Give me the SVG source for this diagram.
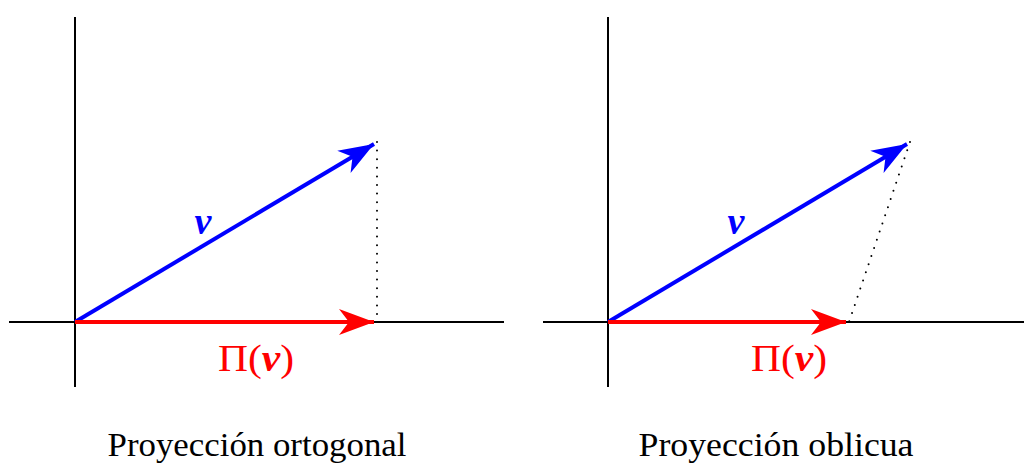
<svg xmlns="http://www.w3.org/2000/svg" width="1024" height="463" viewBox="0 0 1024 463">
<style>
.axis{stroke:#000;stroke-width:2;fill:none}
.vb{stroke:#0000ff;stroke-width:4;fill:none}
.vr{stroke:#ff0000;stroke-width:4;fill:none}
.dot{stroke:#000;stroke-width:2;stroke-dasharray:0,8.6;stroke-linecap:round;fill:none}
.cap{font-family:"Liberation Serif",serif;font-size:34px;fill:#000;text-anchor:middle}
.lb{font-family:"Liberation Serif",serif;font-size:38px;fill:#0000ff;font-style:italic;font-weight:bold;text-anchor:middle}
.lr{font-family:"Liberation Serif",serif;font-size:38px;fill:#ff0000;text-anchor:middle}
</style>
<defs>
<marker id="ab" markerUnits="userSpaceOnUse" markerWidth="40" markerHeight="30" viewBox="-36 -15 40 30" refX="0" refY="0" orient="auto" overflow="visible">
<path d="M0,0 L-35,-13 L-25,0 L-35,13 Z" fill="#0000ff"/>
</marker>
<marker id="ar" markerUnits="userSpaceOnUse" markerWidth="40" markerHeight="30" viewBox="-36 -15 40 30" refX="0" refY="0" orient="auto" overflow="visible">
<path d="M0,0 L-35,-13 L-25,0 L-35,13 Z" fill="#ff0000"/>
</marker>
</defs>
<g id="connectors">
<g id="left-axes">
<line class="axis" x1="75" y1="17" x2="75" y2="387"/>
<line class="axis" x1="9" y1="322" x2="504" y2="322"/>
</g>
<line class="dot" x1="377" y1="142" x2="377" y2="322"/>
<line class="vb" x1="75" y1="322" x2="374" y2="144" marker-end="url(#ab)"/>
<line class="vr" x1="75" y1="322" x2="374" y2="322" marker-end="url(#ar)"/>
<g id="right-axes">
<line class="axis" x1="608" y1="17" x2="608" y2="387"/>
<line class="axis" x1="543" y1="322" x2="1024" y2="322"/>
</g>
<line class="dot" x1="910" y1="142" x2="849" y2="322"/>
<line class="vb" x1="608" y1="322" x2="907" y2="144" marker-end="url(#ab)"/>
<line class="vr" x1="608" y1="322" x2="846" y2="322" marker-end="url(#ar)"/>
</g>
<g id="labels-left">
<text class="lb" x="203" y="234">v</text>
<text class="lr" x="256" y="371" textLength="76" lengthAdjust="spacingAndGlyphs">Π(<tspan font-style="italic" font-weight="bold">v</tspan>)</text>
<text class="cap" x="257" y="456" textLength="299" lengthAdjust="spacingAndGlyphs">Proyección ortogonal</text>
</g>
<g id="labels-right">
<text class="lb" x="736" y="234">v</text>
<text class="lr" x="789" y="371" textLength="76" lengthAdjust="spacingAndGlyphs">Π(<tspan font-style="italic" font-weight="bold">v</tspan>)</text>
<text class="cap" x="776" y="456" textLength="275" lengthAdjust="spacingAndGlyphs">Proyección oblicua</text>
</g>
</svg>
